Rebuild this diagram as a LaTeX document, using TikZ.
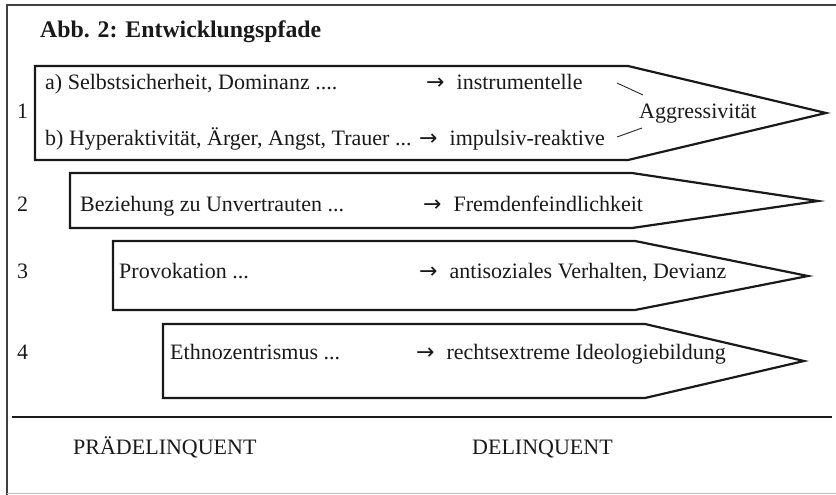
\documentclass[tikz,border=0pt]{standalone}
\usepackage{fontspec}
\setmainfont{Liberation Serif}
\newfontfamily\pfeilfont{DejaVu Sans}
\newcommand{\pfeil}{{\pfeilfont\fontsize{22}{22}\selectfont →}\hspace{12pt}}
\begin{document}
\begin{tikzpicture}[x=1pt, y=-1pt,
  every node/.style={font=\fontsize{22}{24}\selectfont, inner sep=0pt, anchor=base west, text=black!90},
  pfad/.style={line width=2.2pt, line join=miter, black!90},
  strich/.style={line width=0.9pt, black!85}]
\useasboundingbox (0,0) rectangle (836,495);
\draw[line width=1.2pt,black!75] (836,5) -- (7,5) -- (7,495);
\draw[black!25] (7,493) -- (836,493);
\node[font=\fontsize{23.8}{25}\selectfont\bfseries] (titel) at (40,38) {Abb. 2: Entwicklungspfade};
\draw[pfad] (35,66) -- (628,66) -- (826,113) -- (628,160) -- (35,160) -- cycle;
\draw[pfad] (70,173) -- (632,173) -- (818,201) -- (632,228) -- (70,228) -- cycle;
\draw[pfad] (113,241) -- (635,241) -- (808,276) -- (635,310) -- (113,310) -- cycle;
\draw[pfad] (163,324) -- (645,324) -- (804,361) -- (645,398) -- (163,398) -- cycle;
\node (nr1) at (17,118) {1};
\node (sa) at (45,89) {a) Selbstsicherheit, Dominanz ....};
\node (instr) at (426,89) {\pfeil instrumentelle};
\node (sb) at (45,146) {b) Hyperaktivität, Ärger, Angst, Trauer ...};
\node (impuls) at (419,146) {\pfeil impulsiv-reaktive};
\node (aggr) at (639,118) {Aggressivität};
\coordinate (k1) at (617,83);
\coordinate (k2) at (643,95);
\coordinate (k3) at (617,137);
\coordinate (k4) at (642,128);
\draw[strich] (k1) -- (k2);
\draw[strich] (k3) -- (k4);
\node (nr2) at (17,211) {2};
\node (bez) at (80,211) {Beziehung zu Unvertrauten ...};
\node (fremd) at (423,211) {\pfeil Fremdenfeindlichkeit};
\node (nr3) at (17,278) {3};
\node (prov) at (119,278) {Provokation ...};
\node (anti) at (419,278) {\pfeil antisoziales Verhalten, Devianz};
\node (nr4) at (17,359) {4};
\node (ethno) at (170,359) {Ethnozentrismus ...};
\node (rechts) at (416,359) {\pfeil rechtsextreme Ideologiebildung};
\draw[line width=2pt,black!90] (12,417) -- (832,417);
\node (praedel) at (73,454) {PRÄDELINQUENT};
\node (delinq) at (472,454) {DELINQUENT};
\end{tikzpicture}
\end{document}
